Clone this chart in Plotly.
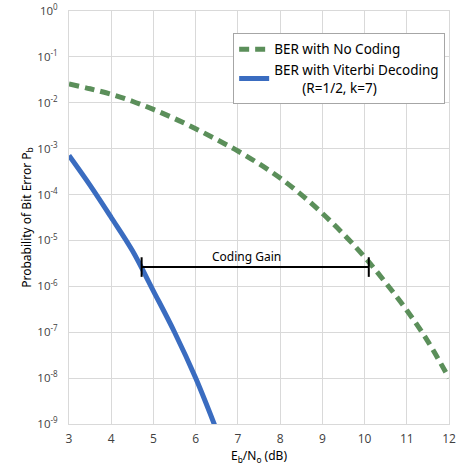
import plotly.graph_objects as go

# Eb/N0 in dB
ebno_uncoded = [3.0, 3.5, 4.0, 4.5, 5.0, 5.5, 6.0, 6.5, 7.0, 7.5, 8.0, 8.5, 9.0, 9.5, 10.0, 10.5, 11.0, 11.5, 12.0]
ber_uncoded = [2.57e-2, 2.02e-2, 1.53e-2, 1.08e-2, 7.16e-3, 4.52e-3, 2.72e-3, 1.58e-3, 8.9e-4, 4.68e-4,
               2.29e-4, 1.0e-4, 3.89e-5, 1.38e-5, 4.37e-6, 1.2e-6, 3.02e-7, 6.3e-8, 1.0e-8]

ebno_viterbi = [3.0, 3.5, 4.0, 4.5, 5.0, 5.5, 6.0, 6.46]
ber_viterbi = [7.08e-4, 1.58e-4, 3.16e-5, 6.0e-6, 7.9e-7, 1.0e-7, 1.0e-8, 8.9e-10]

gain_x = [4.72, 10.1]
gain_ber = [2.63e-6, 2.63e-6]

y_tickvals = [1, 1e-1, 1e-2, 1e-3, 1e-4, 1e-5, 1e-6, 1e-7, 1e-8, 1e-9]
y_ticktext = ["10<sup>0</sup>", "10<sup>-1</sup>", "10<sup>-2</sup>", "10<sup>-3</sup>", "10<sup>-4</sup>",
              "10<sup>-5</sup>", "10<sup>-6</sup>", "10<sup>-7</sup>", "10<sup>-8</sup>", "10<sup>-9</sup>"]
x_tickvals = [3, 4, 5, 6, 7, 8, 9, 10, 11, 12]

hand_font = "Noto Sans"
tick_font = "Open Sans"

fig = go.Figure()
fig.add_trace(go.Scatter(
    x=ebno_uncoded, y=ber_uncoded, mode="lines", name="BER with No Coding",
    line=dict(color="#5b8f5a", width=5, dash="10px,6px", shape="spline"),
))
fig.add_trace(go.Scatter(
    x=ebno_viterbi, y=ber_viterbi, mode="lines",
    name="BER with Viterbi Decoding<br>        (R=1/2, k=7)",
    line=dict(color="#3a6cc0", width=5, shape="spline"),
))
fig.add_trace(go.Scatter(
    x=gain_x, y=gain_ber, mode="lines+markers", showlegend=False,
    line=dict(color="black", width=2),
    marker=dict(symbol="line-ns", size=14, line=dict(color="black", width=2)),
))

fig.add_annotation(
    x=7.2, y=-5.58, xref="x", yref="y", text="Coding Gain", showarrow=False,
    yanchor="bottom", yshift=0, font=dict(family=hand_font, size=12, color="black"),
)

fig.update_layout(
    width=458, height=470,
    margin=dict(l=69, r=9, t=11, b=46),
    paper_bgcolor="white", plot_bgcolor="white",
    showlegend=True,
    legend=dict(
        x=0.432, y=0.947, xanchor="left", yanchor="top",
        bgcolor="white", bordercolor="#a6a6a6", borderwidth=1,
        font=dict(family=hand_font, size=13.5, color="black"),
        tracegroupgap=0, itemwidth=30,
    ),
    xaxis=dict(
        range=[3, 12], tickvals=x_tickvals, showgrid=True, gridcolor="#d9d9d9", gridwidth=1,
        zeroline=False, showline=True, linecolor="#d9d9d9", mirror=True, ticks="",
        automargin=False, ticklabelstandoff=4,
        tickfont=dict(family=tick_font, size=12, color="#404040"),
        title=dict(text="E<sub>b</sub>/N<sub>o</sub> (dB)", font=dict(family=hand_font, size=12, color="black"),
                   standoff=4),
    ),
    yaxis=dict(
        type="log", range=[-9, 0], tickvals=y_tickvals, ticktext=y_ticktext,
        showgrid=True, gridcolor="#d9d9d9", gridwidth=1, zeroline=False,
        showline=True, linecolor="#d9d9d9", mirror=True, ticks="",
        automargin=False, ticklabelstandoff=8,
        tickfont=dict(family=tick_font, size=11.5, color="#404040"),
        title=dict(text="Probability of Bit Error P<sub>b</sub>", font=dict(family=hand_font, size=12, color="black"),
                   standoff=3),
    ),
)

fig.write_html("out.html", config={"displayModeBar": False},
               post_script="document.body.style.margin='0';")
